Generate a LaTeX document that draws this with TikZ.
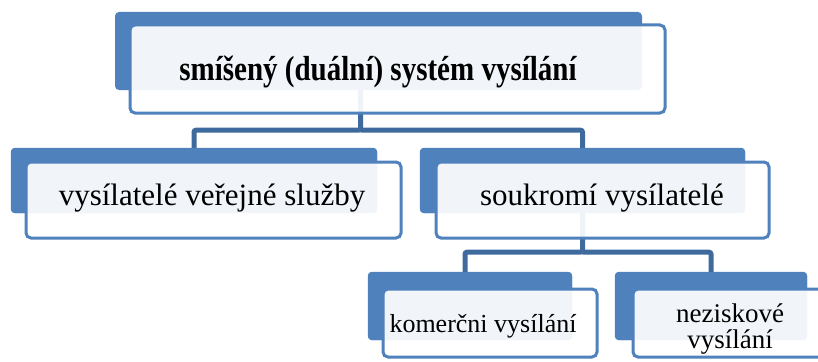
\documentclass[tikz,border=0pt]{standalone}
\usepackage{fontspec}
\setmainfont{Liberation Serif}
\usepackage{graphicx}
\usepackage{tikz}
\usetikzlibrary{positioning}

\definecolor{boxblue}{HTML}{4F81BD}
\definecolor{linkblue}{HTML}{3F6A9D}

\begin{document}
\begin{tikzpicture}[x=1pt,y=-1pt,
  back/.style={draw=none,fill=boxblue,rounded corners=4pt,inner sep=0pt},
  front/.style={draw=boxblue,line width=3pt,fill=white,fill opacity=0.92,rounded corners=5pt,inner sep=0pt},
  link/.style={draw=linkblue,line width=5pt,rounded corners=2pt},
  lbl/.style={anchor=base,inner sep=0pt,align=center}]
\clip (0,0) rectangle (818,361);

% back boxes
\node[back,minimum width=527pt,minimum height=78pt] (topb) at (378.5,51) {};
\node[back,minimum width=366pt,minimum height=65pt] (verb) at (194,180.5) {};
\node[back,minimum width=325pt,minimum height=65pt] (soub) at (582.5,180.5) {};
\node[back,minimum width=204pt,minimum height=68pt] (komb) at (470,306) {};
\node[back,minimum width=192pt,minimum height=68pt] (nezb) at (711,306) {};

% connectors
\draw[link] ([xshift=-18pt]topb.south) -- ++(0,40) -| (verb.north);
\draw[link] ([xshift=-18pt]topb.south) ++(0,40) -| (soub.north);
\draw[link] (soub.south) -- ++(0,39) -| ([xshift=-5pt]komb.north);
\draw[link] (soub.south) ++(0,39) -| (nezb.north);

% back boxes again over the line ends
\fill[boxblue,rounded corners=4pt] (verb.north west) rectangle (verb.south east);
\fill[boxblue,rounded corners=4pt] (soub.north west) rectangle (soub.south east);
\fill[boxblue,rounded corners=4pt] (komb.north west) rectangle (komb.south east);
\fill[boxblue,rounded corners=4pt] (nezb.north west) rectangle (nezb.south east);

% front boxes
\node[front,minimum width=535pt,minimum height=88pt] (topf) at (397.5,69) {};
\node[front,minimum width=375pt,minimum height=76pt] (verf) at (213.5,200) {};
\node[front,minimum width=333pt,minimum height=76pt] (souf) at (602.5,200) {};
\node[front,minimum width=214pt,minimum height=68pt] (komf) at (490,323) {};
\node[front,minimum width=217pt,minimum height=68pt] (nezf) at (741.5,323) {};

% texts
\node[lbl,font=\fontsize{29}{34}\selectfont\bfseries] (topt) at (378,80) {\scalebox{1}[1.2]{smíšený (duální) systém vysílání}};
\node[lbl,font=\fontsize{31}{36}\selectfont] (vert) at (212,205) {vysílatelé veřejné služby};
\node[lbl,font=\fontsize{31}{36}\selectfont] (sout) at (602,205) {soukromí vysílatelé};
\node[lbl,font=\fontsize{26}{30}\selectfont] (komt) at (483,332) {komerčni vysílání};
\node[lbl,font=\fontsize{27}{26}\selectfont] (nezt) at (730,348) {neziskové\\vysílání};
\end{tikzpicture}
\end{document}
